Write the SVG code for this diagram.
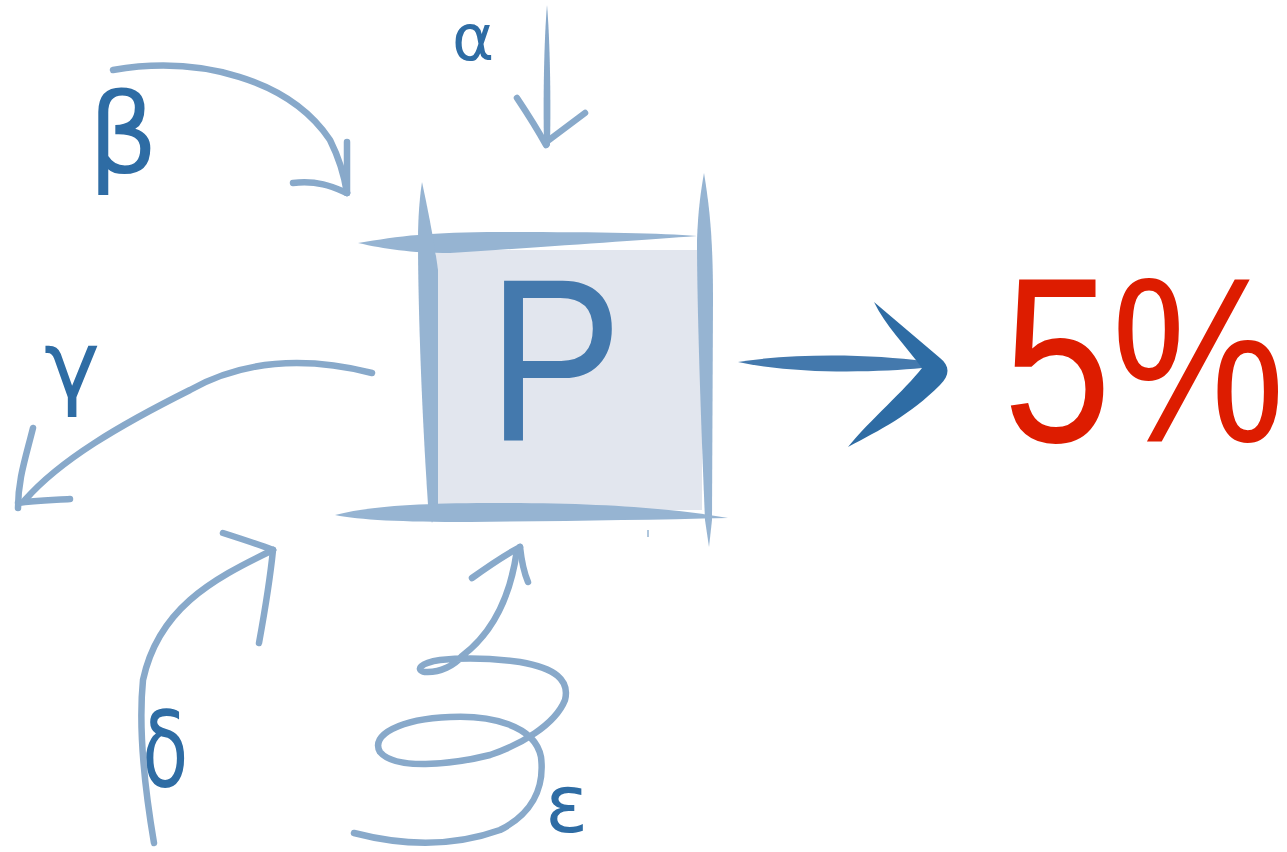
<svg xmlns="http://www.w3.org/2000/svg" width="1287" height="852" viewBox="0 0 1287 852">
  <style>
    .arr { fill: none; stroke: #88a9ca; stroke-width: 6.5; stroke-linecap: round; stroke-linejoin: round; }
    .arrf { fill: #88a9ca; }
    .edge { fill: #96b4d2; }
    .greek { font-family: "DejaVu Sans", "Noto Sans", sans-serif; fill: #2e6ca4; }
    .big { font-family: "Liberation Sans", Arial, sans-serif; }
  </style>
  <rect width="1287" height="852" fill="#ffffff"/>

  <g id="node-P">
    <rect x="436" y="250" width="266" height="260" fill="#e2e6ee"/>
    <path class="edge" d="M358,243 C400,236 430,232 500,232 C600,232 660,233 697,236 C640,240 560,246 450,253 C410,253 385,249 358,243 Z"/>
    <path class="edge" d="M422,182 C428,210 434,240 438,270 L438,505 L432,523 L428,505 C421,400 418,300 418,240 C418,215 420,195 422,182 Z"/>
    <path class="edge" d="M704,173 C710,210 713,240 713,300 L712,520 L709,547 L705,520 C700,400 697,300 697,240 C698,210 701,190 704,173 Z"/>
    <path class="edge" d="M335,515 C370,506 420,503 500,503 C600,503 670,508 728,518 C650,520 560,521 470,522 C400,522 360,520 335,515 Z"/>
    <line x1="648" y1="530" x2="648" y2="537" stroke="#96b4d2" stroke-width="1.5"/>
    <text class="big" x="555" y="440" font-size="232" text-anchor="middle" fill="#4479ad" textLength="135" lengthAdjust="spacingAndGlyphs">P</text>
  </g>

  <g id="node-result">
    <text class="big" transform="translate(1003,442) scale(1,1.21)" x="0" y="0" font-size="195" fill="#dd1c00">5%</text>
  </g>

  <g id="label-alpha"><text class="greek" x="452" y="60" font-size="64">α</text></g>
  <g id="label-beta"><text class="greek" x="88" y="172" font-size="110">β</text></g>
  <g id="label-gamma"><text class="greek" x="44" y="397" font-size="95">γ</text></g>
  <g id="label-delta"><text class="greek" transform="translate(165,787) scale(0.72,1)" x="0" y="0" font-size="105" text-anchor="middle">δ</text></g>
  <g id="label-epsilon"><text class="greek" x="545" y="832" font-size="80">ε</text></g>

  <g id="connectors">
    <!-- alpha arrow -->
    <path class="arrf" d="M547,5 C550,40 551,100 550,145 C548,149 545,149 544,145 C543,100 544,40 547,5 Z"/>
    <path class="arr" stroke-width="5" d="M517,98 Q535,125 546,145"/>
    <path class="arr" stroke-width="4" d="M585,113 Q565,128 549,140"/>
    <!-- beta arrow -->
    <path class="arr" d="M113,70 C200,55 290,80 330,140 C340,160 345,180 347,193"/>
    <path class="arr" stroke-width="7.5" d="M347,142 L347,193"/>
    <path class="arr" stroke-width="5" d="M293,183 C320,180 335,188 347,193"/>
    <!-- gamma arrow -->
    <path class="arr" d="M372,373 C300,355 240,362 190,390 C120,425 60,460 25,500"/>
    <path class="arr" d="M33,428 C25,460 18,480 18,508"/>
    <path class="arr" stroke-width="4" d="M18,503 C35,500 55,500 70,499"/>
    <!-- delta arrow -->
    <path class="arr" d="M154,843 C145,790 138,730 143,680 C158,610 210,580 273,550"/>
    <path class="arr" stroke-width="7.5" d="M223,533 C245,540 260,545 273,550"/>
    <path class="arr" d="M273,550 C270,580 265,610 259,643"/>
    <!-- epsilon spiral arrow -->
    <path class="arr" d="M354,833 C400,845 450,848 500,830 C530,815 545,790 541,757 C535,725 490,715 450,717 C400,719 370,735 380,752 C395,770 450,765 490,755 C520,745 555,725 565,700 C570,680 555,668 520,662 C490,658 460,658 440,660 C420,663 415,670 425,672 C440,673 455,665 462,656 C490,635 510,600 517,550"/>
    <path class="arr" stroke-width="7.5" d="M472,578 C490,565 505,555 520,547"/>
    <path class="arr" stroke-width="4" d="M520,547 C522,565 525,575 528,582"/>
    <!-- P to result arrow -->
    <path fill="#4479ad" d="M738,362 C800,352 880,355 922,361 L922,368 C880,372 800,375 738,362 Z"/>
    <path fill="#2e6ca4" d="M874,302 L940,358 C950,366 950,375 940,385 C910,415 880,430 848,447 C870,420 905,390 922,368 C905,345 885,325 874,302 Z"/>
  </g>
</svg>
